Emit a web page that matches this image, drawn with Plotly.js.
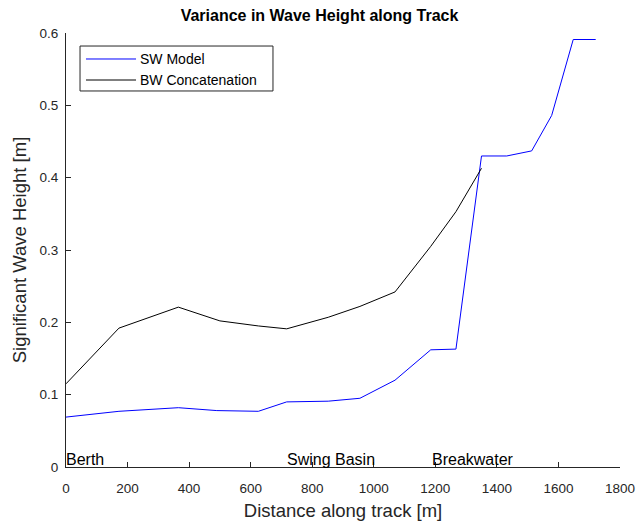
<!DOCTYPE html>
<html>
<head>
<meta charset="utf-8">
<script src="https://cdn.plot.ly/plotly-3.0.1.min.js"></script>
<style>html,body{margin:0;padding:0;background:#fff;}#chart{width:639px;height:523px;}</style>
</head>
<body>
<div id="chart"></div>
<script>
// Distance along track [m]
const swX = [0, 172, 365, 490, 625, 717, 852, 955, 1069, 1185, 1267, 1350, 1432, 1513, 1578, 1648, 1721];
const swY = [0.069, 0.077, 0.082, 0.078, 0.077, 0.090, 0.091, 0.095, 0.120, 0.162, 0.163, 0.430, 0.430, 0.437, 0.486, 0.591, 0.591];
const bwX = [0, 172, 365, 500, 625, 717, 852, 955, 1069, 1185, 1267, 1350];
const bwY = [0.115, 0.192, 0.221, 0.202, 0.195, 0.191, 0.207, 0.222, 0.242, 0.305, 0.353, 0.413];
const seriesNames = ["SW Model", "BW Concatenation"];
const seriesColors = ["#0000ff", "#000000"];
const zoneLabels = ["Berth", "Swing Basin", "Breakwater"];
const zoneX = [0, 717, 1190];
const zoneY = 0.011;
const xTicks = [0, 200, 400, 600, 800, 1000, 1200, 1400, 1600, 1800];
const yTicks = [0, 0.1, 0.2, 0.3, 0.4, 0.5, 0.6];
const yTickText = ["0", "0.1", "0.2", "0.3", "0.4", "0.5", "0.6"];

const fontFam = "Liberation Sans, Arial, sans-serif";
const txt = "#262626";

const traces = [
  {x: swX, y: swY, name: seriesNames[0], mode: "lines", line: {color: seriesColors[0], width: 1}},
  {x: bwX, y: bwY, name: seriesNames[1], mode: "lines", line: {color: seriesColors[1], width: 1}}
];

const annotations = zoneLabels.map((t, i) => ({
  x: zoneX[i], y: zoneY, xref: "x", yref: "y", text: t, showarrow: false, xshift: -2,
  xanchor: "left", yanchor: "middle", font: {family: fontFam, size: 16, color: "#000"}
}));

// MATLAB-style legend box (decoration, in paper coordinates)
const legBox = {x0: 0.0253, x1: 0.3736, y0: 0.8664, y1: 0.9700};
const legRowY = [0.9401, 0.8917];
const legLineX = [0.0361, 0.1264];
const legTextX = 0.1318;
const shapes = [{type: "rect", xref: "paper", yref: "paper", x0: legBox.x0, x1: legBox.x1, y0: legBox.y0, y1: legBox.y1,
  line: {color: txt, width: 1}, fillcolor: "#fff", layer: "above"}];
seriesNames.forEach((n, i) => {
  shapes.push({type: "line", xref: "paper", yref: "paper", x0: legLineX[0], x1: legLineX[1], y0: legRowY[i], y1: legRowY[i],
    line: {color: seriesColors[i], width: 1}, layer: "above"});
  annotations.push({xref: "paper", yref: "paper", x: legTextX, y: legRowY[i], text: n, showarrow: false,
    xanchor: "left", yanchor: "middle", borderpad: 0, font: {family: fontFam, size: 14, color: "#000"}});
});

const layout = {
  width: 639, height: 523,
  margin: {l: 66, r: 19, t: 33, b: 56},
  paper_bgcolor: "#fff", plot_bgcolor: "#fff",
  font: {family: fontFam, color: txt, size: 13},
  title: {text: "<b>Variance in Wave Height along Track</b>", x: 0.5, xanchor: "center", y: 0.971, yanchor: "middle", font: {size: 16, color: "#000", family: fontFam}},
  xaxis: {
    range: [0, 1800], tickvals: xTicks, ticktext: xTicks.map(String),
    ticks: "inside", ticklen: 5, tickcolor: txt, showline: true, linecolor: txt, linewidth: 1,
    showgrid: false, zeroline: false, mirror: false, ticklabelstandoff: 9,
    title: {text: "Distance along track [m]", font: {size: 18.5, color: txt}, standoff: 8},
    tickfont: {size: 13.5, color: txt}
  },
  yaxis: {
    range: [0, 0.6], tickvals: yTicks, ticktext: yTickText,
    ticks: "inside", ticklen: 5, tickcolor: txt, showline: true, linecolor: txt, linewidth: 1,
    showgrid: false, zeroline: false, mirror: false, ticklabelstandoff: 4,
    title: {text: "Significant Wave Height [m]", font: {size: 18.5, color: txt}, standoff: 8},
    tickfont: {size: 13.5, color: txt}
  },
  showlegend: false,
  shapes: shapes,
  annotations: annotations
};

Plotly.newPlot("chart", traces, layout, {displayModeBar: false, staticPlot: true});
</script>
</body>
</html>
